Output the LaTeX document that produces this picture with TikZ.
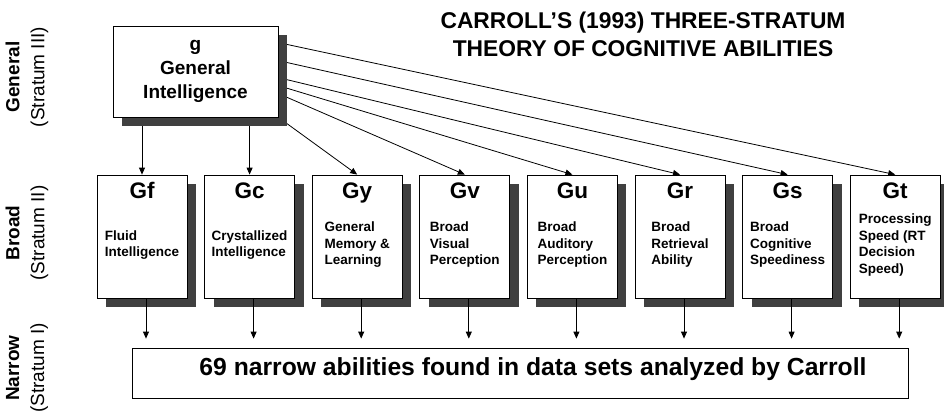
\documentclass[tikz,border=0pt]{standalone}
\usepackage{fontspec}
\setmainfont{Liberation Sans}
\usetikzlibrary{arrows.meta, positioning, calc, shadows, backgrounds}

\begin{document}
\begin{tikzpicture}[
  x=1pt,
  y=-1pt,
  box/.style = {
    draw,
    line width=0.8pt,
    fill=white,
    drop shadow={shadow xshift=9pt, shadow yshift=-9pt, fill=black!75, opacity=1}
  },
  general/.style = {
    box,
    minimum width=165pt,
    minimum height=91pt,
    inner sep=0pt,
    align=center,
    font=\fontsize{19}{24}\selectfont\bfseries
  },
  broad/.style = {
    box,
    minimum width=90pt,
    minimum height=123pt,
    inner sep=0pt
  },
  narrow/.style = {
    draw,
    line width=0.8pt,
    minimum width=776pt,
    minimum height=50pt,
    inner sep=0pt
  },
  tag/.style = {font=\fontsize{22.5}{22.5}\selectfont\bfseries, anchor=base, inner sep=0pt},
  note/.style = {font=\fontsize{13.5}{16.5}\selectfont\bfseries, align=left, inner sep=0pt},
  stratum/.style = {font=\fontsize{19}{25}\selectfont, rotate=90, align=center, inner sep=0pt},
  arrow/.style = {line width=0.8pt, -{Triangle[width=6pt,length=7pt]}},
  node distance=16.8pt
]
\useasboundingbox (0,0) rectangle (944,417);

% ======================================================
% TITLE AND STRATUM LABELS
% ======================================================

\node[font=\fontsize{22.8}{28}\selectfont\bfseries, align=center, inner sep=0pt] (title) at (643,34) {
  CARROLL'S (1993) THREE-STRATUM\\
  THEORY OF COGNITIVE ABILITIES
};

\node[stratum] (general_label) at (27,77) {\textbf{General}\\(Stratum III)};
\node[stratum] (broad_label) at (27,233) {\textbf{Broad}\\(Stratum II)};
\node[stratum] (narrow_label) at (27,368) {\textbf{Narrow}\\(Stratum I)};

% ======================================================
% STRATUM III
% ======================================================

\node[general] (g) at (195.5,71.5) {g\\General\\Intelligence};

% ======================================================
% STRATUM II
% ======================================================

\node[broad] (gf) at (142,236.5) {};
\node[broad, right=of gf] (gc) {};
\node[broad, right=of gc] (gy) {};
\node[broad, right=of gy] (gv) {};
\node[broad, right=of gv] (gu) {};
\node[broad, right=of gu] (gr) {};
\node[broad, right=of gr] (gs) {};
\node[broad, right=of gs] (gt) {};

\node[tag] (gf_tag) at ($(gf.north)+(0,24)$) {Gf};
\node[tag] (gc_tag) at ($(gc.north)+(0,24)$) {Gc};
\node[tag] (gy_tag) at ($(gy.north)+(0,24)$) {Gy};
\node[tag] (gv_tag) at ($(gv.north)+(0,24)$) {Gv};
\node[tag] (gu_tag) at ($(gu.north)+(0,24)$) {Gu};
\node[tag] (gr_tag) at ($(gr.north)+(0,24)$) {Gr};
\node[tag] (gs_tag) at ($(gs.north)+(0,24)$) {Gs};
\node[tag] (gt_tag) at ($(gt.north)+(0,24)$) {Gt};

\node[note] (gf_note) at ($(gf.center)+(0,8.5)$) {Fluid\\Intelligence};
\node[note] (gc_note) at ($(gc.center)+(0,8.5)$) {Crystallized\\Intelligence};
\node[note] (gy_note) at ($(gy.center)+(0,8.5)$) {General\\Memory \&\\Learning};
\node[note] (gv_note) at ($(gv.center)+(0,8.5)$) {Broad\\Visual\\Perception};
\node[note] (gu_note) at ($(gu.center)+(0,8.5)$) {Broad\\Auditory\\Perception};
\node[note] (gr_note) at ($(gr.center)+(0,8.5)$) {Broad\\Retrieval\\Ability};
\node[note] (gs_note) at ($(gs.center)+(0,8.5)$) {Broad\\Cognitive\\Speediness};
\node[note] (gt_note) at ($(gt.center)+(0,8.5)$) {Processing\\Speed (RT\\Decision\\Speed)};

% g to the broad abilities
\begin{scope}[on background layer]
  \draw[arrow] (g.south -| gf.north) -- (gf.north);
  \draw[arrow] (g.south -| gc.north) -- (gc.north);
  \draw[arrow] (g.south east) -- (gy.north);
  \draw[arrow] ($(g.north east)+(0,68)$) -- (gv.north);
  \draw[arrow] ($(g.north east)+(0,60)$) -- (gu.north);
  \draw[arrow] ($(g.north east)+(0,52)$) -- (gr.north);
  \draw[arrow] ($(g.north east)+(0,35)$) -- (gs.north);
  \draw[arrow] ($(g.north east)+(0,17)$) -- (gt.north);
\end{scope}

% ======================================================
% STRATUM I
% ======================================================

\node[narrow] (narrow) at (520,373) {};
\node[font=\fontsize{24.7}{24.7}\selectfont\bfseries, inner sep=0pt] (narrow_text) at (533,369) {
  69 narrow abilities found in data sets analyzed by Carroll
};

% broad abilities to the narrow ones
\draw[arrow, shorten >=9pt] ([xshift=4pt]gf.south) -- ([xshift=4pt]gf.south |- narrow.north);
\draw[arrow, shorten >=9pt] ([xshift=4pt]gc.south) -- ([xshift=4pt]gc.south |- narrow.north);
\draw[arrow, shorten >=9pt] ([xshift=4pt]gy.south) -- ([xshift=4pt]gy.south |- narrow.north);
\draw[arrow, shorten >=9pt] ([xshift=4pt]gv.south) -- ([xshift=4pt]gv.south |- narrow.north);
\draw[arrow, shorten >=9pt] ([xshift=4pt]gu.south) -- ([xshift=4pt]gu.south |- narrow.north);
\draw[arrow, shorten >=9pt] ([xshift=4pt]gr.south) -- ([xshift=4pt]gr.south |- narrow.north);
\draw[arrow, shorten >=9pt] ([xshift=4pt]gs.south) -- ([xshift=4pt]gs.south |- narrow.north);
\draw[arrow, shorten >=9pt] ([xshift=4pt]gt.south) -- ([xshift=4pt]gt.south |- narrow.north);

\end{tikzpicture}
\end{document}
